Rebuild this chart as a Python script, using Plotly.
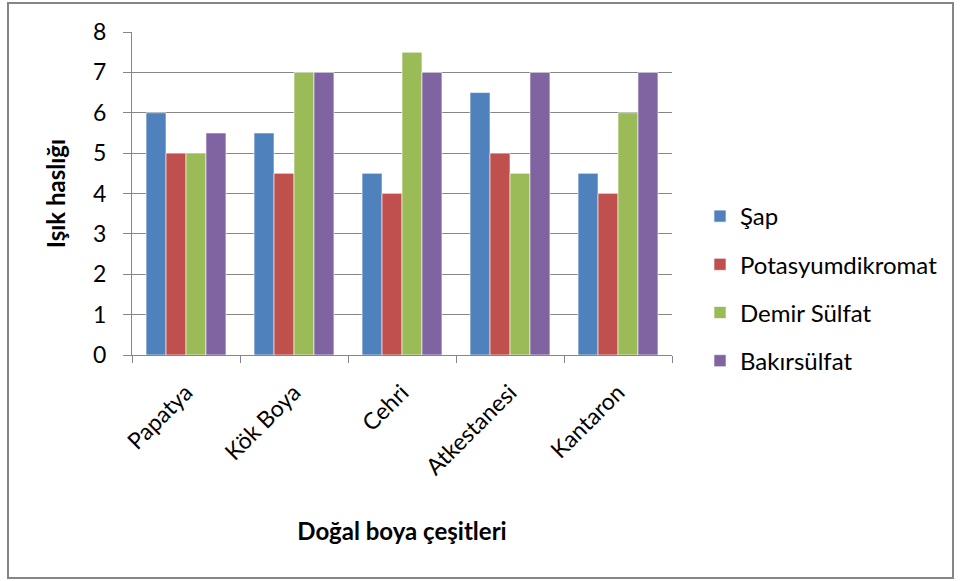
import plotly.graph_objects as go

categories = ["Papatya", "Kök Boya", "Cehri", "Atkestanesi", "Kantaron"]
series_names = ["Şap", "Potasyumdikromat", "Demir Sülfat", "Bakırsülfat"]
sap = [6, 5.5, 4.5, 6.5, 4.5]
potasyum = [5, 4.5, 4, 5, 4]
demir = [5, 7, 7.5, 4.5, 6]
bakir = [5.5, 7, 7, 7, 7]
y_ticks = [0, 1, 2, 3, 4, 5, 6, 7, 8]
colors = ["#4F81BD", "#C0504D", "#9BBB59", "#8064A2"]

FONT = "Lato, 'Open Sans', sans-serif"

fig = go.Figure()
for i, (name, vals) in enumerate(zip(series_names, [sap, potasyum, demir, bakir])):
    fig.add_trace(go.Bar(
        x=categories, y=vals, name=name,
        marker=dict(color=colors[i], line=dict(color="rgba(255,255,255,0.6)", width=1)),
        legendgroup=name,
    ))

L, R, T, B = 132, 289, 32, 226
W, H = 961, 581
pw, ph = W - L - R, H - T - B

def px2x(px):
    return (px - L) / pw

def px2y(py):
    return (H - B - py) / ph

fig.update_layout(
    width=W, height=H,
    margin=dict(l=L, r=R, t=T, b=B),
    paper_bgcolor="white", plot_bgcolor="white",
    barmode="group", bargap=0.26, bargroupgap=0,
    font=dict(family=FONT, size=22, color="#000000"),
    showlegend=True,
    legend=dict(
        x=px2x(700), y=px2y(194), xanchor="left", yanchor="top",
        font=dict(family=FONT, size=24, color="#000000"),
        traceorder="grouped", tracegroupgap=14,
        itemwidth=30,
    ),
    xaxis=dict(
        type="category",
        showline=True, linecolor="#868686", linewidth=1,
        ticks="outside", tickson="boundaries", ticklen=7, tickcolor="#868686",
        tickangle=-45, tickfont=dict(family=FONT, size=23),
        ticklabelstandoff=14,
        title=dict(text="<b>Doğal boya çeşitleri</b>", font=dict(family=FONT, size=24), standoff=44),
        showgrid=False,
    ),
    yaxis=dict(
        range=[0, 8], tickvals=y_ticks,
        showline=True, linecolor="#868686", linewidth=1,
        ticks="outside", ticklen=8, tickcolor="#868686",
        ticklabelstandoff=12,
        showgrid=True, gridcolor="#868686", gridwidth=1,
        tickfont=dict(family=FONT, size=23),
        title=dict(text="<b>Işık haslığı</b>", font=dict(family=FONT, size=24), standoff=20),
        zeroline=False,
    ),
    shapes=[dict(
        type="rect", xref="paper", yref="paper",
        x0=px2x(8), x1=px2x(953), y0=px2y(578), y1=px2y(3),
        line=dict(color="#868686", width=2), fillcolor="rgba(0,0,0,0)", layer="below",
    )],
)

fig.write_html("out.html")
